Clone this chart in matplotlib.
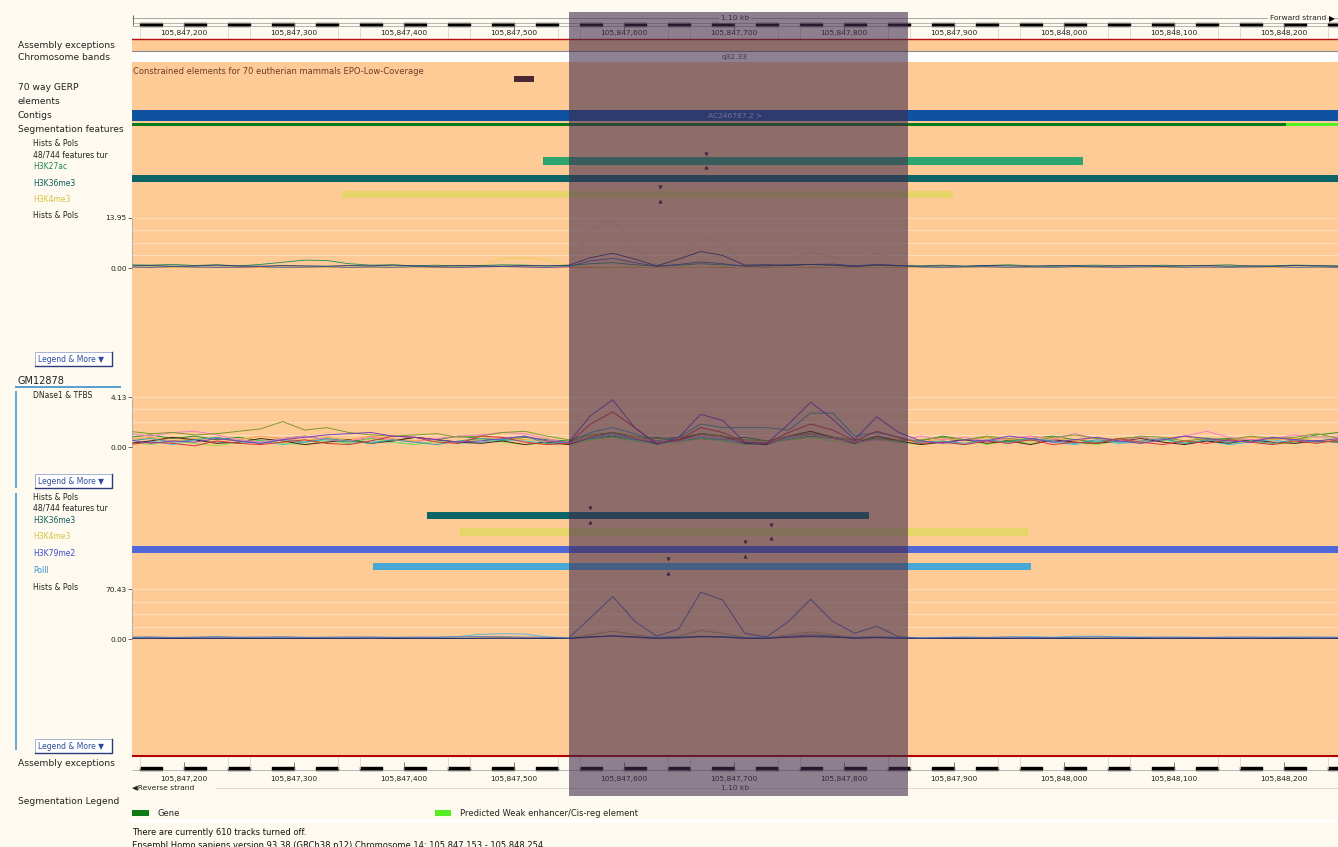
import matplotlib
matplotlib.use("Agg")
import matplotlib.pyplot as plt
import numpy as np
from matplotlib.patches import Rectangle

plt.rcParams['font.family'] = ['DejaVu Sans']

W, H = 1338, 847
CREAM = '#fffaef'
ORANGE = '#fecb97'

# region on chromosome 14 and the highlighted window
START, END = 105847153, 105848254
PX_PER_BP = 1.1
X0 = START
X1 = START + (W - 132) / PX_PER_BP
HL_START, HL_END = 105847550, 105847858
MAJOR = [105847200 + 100 * k for k in range(11)]

# features (start, end) and peak summits
GERP_EL = (105847500, 105847518)
GENE_SEG = (START, 105848202)
WEAK_ENH = (105848202, END)
TOP_K27AC = (105847527, 105848018)
TOP_K27AC_SUMMIT = 105847675
TOP_K4ME3 = (105847344, 105847899)
TOP_K4ME3_SUMMIT = 105847633
GM_K36ME3 = (105847421, 105847823)
GM_K36ME3_SUMMIT = 105847569
GM_K4ME3 = (105847451, 105847968)
GM_K4ME3_SUMMIT = 105847734
GM_K79ME2_SUMMIT = 105847710
GM_POLII = (105847372, 105847970)
GM_POLII_SUMMIT = 105847640

# signal tracks sampled every 20 bp
SIG_POS = np.arange(105847150, 105848251, 20)

# top Hists & Pols (max 13.95)
H1_OLIVE = [0.3, 0.4, 0.3, 0.2, 0.4, 0.3, 0.5, 0.4, 0.3, 0.2, 0.3, 0.4, 0.3, 0.2, 0.3, 0.4, 0.3, 0.5, 0.4, 0.3,
            0.5, 10.5, 13.6, 5.5, 0.8, 1.5, 8.5, 7.0, 1.0, 0.8, 2.5, 4.4, 3.0, 1.5, 4.1, 2.0, 0.3,
            0.3, 0.4, 0.2, 0.3, 0.4, 0.3, 0.2, 0.3, 0.4, 0.3, 0.2, 0.4, 0.3, 0.2, 0.3, 0.4, 0.3, 0.2, 0.3]
H1_NAVY = [0.6, 0.7, 0.5, 0.6, 0.8, 0.6, 0.5, 0.7, 0.6, 0.5, 0.7, 0.6, 0.8, 0.6, 0.5, 0.7, 0.6, 0.5, 0.7, 0.6,
           0.8, 2.9, 4.1, 2.5, 0.6, 2.5, 4.6, 3.5, 0.8, 0.9, 0.7, 1.0, 0.8, 0.4, 0.8, 0.6, 0.5,
           0.6, 0.5, 0.7, 0.6, 0.5, 0.7, 0.6, 0.5, 0.6, 0.7, 0.5, 0.6, 0.7, 0.5, 0.6, 0.5, 0.7, 0.6, 0.5]
H1_BLUE = [0.3, 0.2, 0.4, 0.3, 0.2, 0.3, 0.4, 0.2, 0.3, 0.4, 0.2, 0.3, 0.2, 0.4, 0.3, 0.2, 0.3, 0.4, 0.3, 0.2,
           0.4, 2.0, 2.7, 1.5, 0.5, 1.0, 1.7, 1.2, 0.5, 0.6, 0.8, 1.0, 1.1, 0.6, 1.0, 0.7, 0.3,
           0.2, 0.3, 0.4, 0.2, 0.3, 0.2, 0.4, 0.3, 0.2, 0.3, 0.4, 0.2, 0.3, 0.2, 0.3, 0.4, 0.2, 0.3, 0.2]
H1_GREEN = [0.9, 0.8, 1.0, 0.7, 0.9, 0.6, 1.0, 1.6, 2.2, 2.1, 1.2, 0.8, 0.9, 0.6, 0.8, 0.5, 0.7, 0.9, 0.8, 0.6,
            0.7, 1.2, 1.5, 0.9, 0.5, 0.8, 1.2, 0.9, 0.6, 0.7, 0.9, 1.0, 0.8, 0.6, 0.9, 0.7, 0.6,
            0.8, 0.5, 0.7, 0.9, 0.6, 0.4, 0.7, 0.8, 0.6, 0.5, 0.8, 0.6, 0.7, 0.9, 0.5, 0.6, 0.8, 0.7, 0.6]
H1_YELLOW = [0.2, 0.3, 0.2, 0.3, 0.2, 0.4, 0.3, 0.2, 0.3, 0.2, 0.3, 0.2, 0.3, 0.2, 0.3, 0.4, 0.8, 2.6, 2.8, 2.4,
             0.6, 0.3, 0.2, 0.3, 0.2, 0.3, 0.2, 0.3, 0.2, 0.3, 0.2, 0.3, 0.2, 0.3, 0.2, 0.3, 0.2,
             0.3, 0.2, 0.3, 0.2, 0.3, 0.2, 0.3, 0.2, 0.3, 0.2, 0.3, 0.2, 0.3, 0.2, 0.3, 0.2, 0.3, 0.2, 0.3]
H1_RED = [0.1, 0.1, 0.0, 0.1, 0.2, 0.1, 0.0, 0.3, 0.1, 0.0, 0.1, 0.1, 0.0, 0.1, 0.1, 0.2, 0.4, 0.4, 0.3, 0.1,
          0.0, 0.1, 0.1, 0.0, 0.1, 0.0, 0.1, 0.1, 0.0, 0.1, 0.0, 0.1, 0.1, 0.0, 0.1, 0.0, 0.1,
          0.1, 0.0, 0.1, 0.1, 0.0, 0.1, 0.0, 0.1, 0.1, 0.0, 0.1, 0.0, 0.1, 0.1, 0.0, 0.1, 0.0, 0.1, 0.1]

# DNase1 & TFBS (max 4.13)
DN_PURPLE = [0.6, 0.3, 0.5, 0.4, 0.7, 0.5, 0.3, 0.6, 0.8, 1.0, 1.1, 1.2, 0.9, 0.8, 0.6, 0.4, 0.5, 0.7, 0.9, 0.5,
             0.4, 2.6, 3.9, 1.6, 0.2, 0.8, 2.7, 2.2, 0.4, 0.3, 1.9, 3.7, 2.3, 0.6, 2.5, 1.2, 0.5,
             0.3, 0.6, 0.5, 0.9, 0.7, 0.4, 0.6, 0.8, 0.5, 0.3, 0.6, 0.9, 0.7, 0.5, 0.4, 0.8, 0.6, 0.5, 0.7]
DN_RED = [0.2, 0.4, 0.3, 0.1, 0.5, 0.3, 0.2, 0.4, 0.6, 0.3, 0.2, 0.5, 0.9, 0.8, 0.4, 0.3, 0.9, 0.8, 0.4, 0.2,
          0.3, 1.9, 2.9, 1.6, 0.3, 0.6, 1.6, 1.2, 0.4, 0.3, 1.2, 1.9, 1.4, 0.5, 1.3, 0.8, 0.3,
          0.4, 0.2, 0.5, 0.3, 0.6, 0.2, 0.4, 0.3, 0.7, 0.4, 0.2, 0.5, 0.3, 0.6, 0.4, 0.2, 0.5, 0.3, 0.6]
DN_OLIVE = [1.3, 1.1, 1.2, 1.0, 1.1, 1.3, 1.5, 2.1, 1.4, 1.6, 1.2, 1.0, 0.9, 1.0, 1.1, 0.8, 0.9, 1.2, 1.3, 0.9,
            0.6, 1.0, 1.2, 0.9, 0.7, 0.8, 1.1, 0.9, 0.6, 0.5, 0.9, 1.1, 0.8, 0.6, 0.7, 0.5, 0.6,
            0.8, 0.6, 0.9, 0.7, 0.5, 0.8, 1.0, 0.7, 0.6, 0.9, 0.8, 0.5, 0.7, 0.6, 0.9, 0.7, 0.8, 1.1, 0.7]
DN_PINK = [1.1, 0.9, 1.2, 1.3, 1.0, 0.6, 0.4, 0.7, 0.9, 0.6, 0.5, 0.8, 0.6, 0.4, 0.7, 0.9, 1.0, 1.2, 1.1, 0.7,
           0.3, 0.8, 1.1, 0.7, 0.4, 0.5, 0.9, 0.7, 0.4, 0.3, 0.8, 1.0, 0.7, 0.4, 0.6, 0.5, 0.9,
           0.6, 0.8, 0.5, 0.7, 0.9, 0.6, 1.1, 0.7, 0.5, 0.8, 0.6, 0.9, 1.3, 0.8, 0.6, 0.7, 1.0, 0.8, 0.9]
DN_TEAL = [0.5, 0.7, 0.4, 0.6, 0.8, 0.5, 0.3, 0.6, 0.4, 0.7, 0.5, 0.3, 0.6, 0.4, 0.2, 0.5, 0.7, 0.6, 0.9, 0.3,
           0.4, 1.2, 1.6, 1.1, 0.5, 0.8, 1.9, 1.6, 1.6, 1.6, 1.4, 2.8, 2.8, 0.9, 1.2, 0.8, 0.4,
           0.5, 0.3, 0.6, 0.4, 0.7, 0.5, 0.3, 0.6, 0.4, 0.5, 0.7, 0.3, 0.6, 0.4, 0.5, 0.3, 0.6, 0.4, 0.5]
DN_DARK = [0.3, 0.5, 0.8, 0.6, 0.3, 0.4, 0.7, 0.5, 0.2, 0.4, 0.6, 0.3, 0.5, 0.8, 0.6, 0.4, 0.3, 0.5, 0.2, 0.4,
           0.2, 0.8, 1.2, 0.7, 0.3, 0.6, 1.1, 0.9, 0.3, 0.2, 0.9, 1.3, 0.8, 0.3, 0.9, 0.5, 0.2,
           0.4, 0.6, 0.3, 0.5, 0.2, 0.6, 0.4, 0.3, 0.5, 0.7, 0.4, 0.2, 0.5, 0.3, 0.6, 0.4, 0.3, 0.5, 0.4]
DN_ORANGE = [0.6, 0.8, 0.5, 0.7, 0.4, 0.6, 0.9, 0.7, 0.5, 0.8, 0.6, 0.9, 0.7, 0.5, 0.6, 0.4, 0.7, 0.8, 0.6, 0.5,
             0.4, 0.9, 1.1, 0.8, 0.4, 0.6, 1.0, 0.8, 0.5, 0.4, 0.8, 1.2, 0.9, 0.5, 0.8, 0.6, 0.4,
             0.7, 0.5, 0.8, 0.6, 0.9, 0.7, 0.5, 0.8, 0.6, 0.4, 0.7, 0.9, 0.6, 0.5, 0.8, 0.6, 0.7, 0.5, 0.6]
DN_LIME = [0.4, 0.2, 0.5, 0.3, 0.1, 0.4, 0.6, 0.3, 0.2, 0.5, 0.3, 0.7, 0.4, 0.2, 0.5, 0.3, 0.6, 0.4, 0.2, 0.3,
           0.2, 0.6, 0.8, 0.5, 0.2, 0.4, 0.7, 0.5, 0.2, 0.3, 0.6, 0.8, 0.5, 0.3, 0.6, 0.4, 0.2,
           0.4, 0.6, 0.2, 0.5, 0.3, 0.7, 0.4, 0.2, 0.5, 0.3, 0.6, 0.4, 0.8, 0.3, 0.5, 0.2, 0.4, 0.9, 0.5]
DN_GREEN = [0.8, 1.0, 0.7, 0.9, 0.6, 0.8, 0.5, 0.7, 0.9, 0.6, 0.4, 0.7, 0.5, 0.8, 0.6, 0.9, 0.7, 0.5, 0.8, 0.6,
            0.5, 0.7, 0.9, 0.6, 0.8, 0.5, 0.7, 0.6, 0.8, 0.5, 0.6, 0.9, 0.7, 0.5, 0.7, 0.6, 0.5,
            0.9, 0.6, 0.8, 0.5, 0.7, 0.9, 0.6, 0.4, 0.7, 0.8, 0.5, 0.9, 0.6, 0.7, 0.5, 0.8, 0.6, 1.0, 1.2]
DN_CYAN = [0.3, 0.5, 0.2, 0.6, 0.4, 0.3, 0.5, 0.2, 0.4, 0.6, 0.3, 0.5, 0.4, 0.2, 0.5, 0.3, 0.4, 0.6, 0.5, 0.3,
           0.3, 0.7, 1.0, 0.6, 0.3, 0.5, 0.8, 0.6, 0.3, 0.3, 0.7, 1.1, 0.8, 0.4, 0.7, 0.4, 0.3,
           0.4, 0.2, 0.5, 0.3, 0.6, 0.4, 0.2, 0.5, 0.3, 0.4, 0.6, 0.3, 0.5, 0.2, 0.4, 0.6, 0.3, 0.5, 0.4]

# GM12878 Hists & Pols (max 70.43)
H2_SLATE = [2.5, 2.8, 2.2, 2.6, 3.0, 2.4, 2.7, 2.9, 2.3, 2.5, 2.8, 2.6, 2.2, 2.7, 2.4, 2.9, 3.2, 3.0, 2.6, 2.4,
            1.5, 30, 60, 25, 4, 14, 66, 55, 8, 3, 25, 56, 25, 8, 18, 3, 1.5,
            2.0, 2.4, 2.2, 2.6, 2.3, 2.0, 2.5, 2.8, 2.4, 2.1, 2.6, 2.3, 2.0, 2.5, 2.7, 2.2, 2.4, 2.6, 2.3]
H2_OLIVE = [1.2, 1.5, 1.0, 1.4, 1.6, 1.2, 1.0, 1.3, 1.5, 1.1, 1.4, 1.2, 1.6, 1.3, 1.0, 1.2, 1.5, 1.8, 1.4, 1.1,
            1.5, 6, 11, 6, 2, 4, 12, 8, 2, 1.5, 6, 10, 6, 2, 4, 2, 1.2,
            1.3, 1.1, 1.4, 1.2, 1.0, 1.3, 1.5, 1.2, 1.1, 1.4, 1.2, 1.0, 1.3, 1.5, 1.2, 1.1, 1.4, 1.2, 1.3]
H2_LIGHTBLUE = [2.0, 2.5, 1.8, 2.2, 2.8, 2.4, 2.0, 2.6, 2.3, 1.9, 2.2, 2.7, 2.4, 2.0, 2.5, 3.5, 6.5, 7.5, 7.0, 3.0,
                2.0, 3.0, 4.0, 3.0, 2.5, 3.0, 4.0, 3.5, 2.5, 2.0, 3.0, 3.5, 3.0, 2.5, 3.0, 2.5, 2.0,
                2.4, 2.8, 2.2, 3.0, 3.4, 2.6, 3.8, 4.0, 3.2, 2.8, 2.5, 2.9, 2.4, 2.7, 2.2, 2.6, 2.9, 2.4, 2.6]
H2_NAVY = [0.8, 1.0, 0.6, 0.9, 1.1, 0.7, 0.8, 1.0, 0.6, 0.9, 0.8, 1.1, 0.7, 0.9, 0.8, 0.6, 1.0, 1.2, 0.9, 0.7,
           0.8, 3.0, 4.5, 3.0, 1.2, 2.0, 3.5, 3.0, 1.2, 1.0, 2.5, 3.5, 2.5, 1.2, 2.0, 1.2, 0.8,
           0.9, 0.7, 1.0, 0.8, 1.1, 0.9, 0.6, 0.8, 1.0, 0.7, 0.9, 0.8, 1.1, 0.7, 0.9, 0.8, 0.6, 1.0, 0.8]
H2_PURPLE = [0.5, 0.6, 0.4, 0.5, 0.7, 0.5, 0.4, 0.6, 0.5, 0.4, 0.6, 0.5, 0.7, 0.5, 0.4, 0.6, 0.5, 0.4, 0.6, 0.5,
             0.6, 2.5, 4.0, 2.0, 0.8, 1.5, 3.0, 2.5, 0.8, 0.9, 3.5, 6.0, 4.0, 1.0, 2.0, 1.0, 0.5,
             0.5, 0.4, 0.6, 0.5, 0.7, 0.5, 0.4, 0.6, 0.5, 0.4, 0.6, 0.5, 0.7, 0.5, 0.4, 0.6, 0.5, 0.4, 0.6]


def fx(px):
    return px / W


def fy(py):
    return 1 - py / H


fig = plt.figure(figsize=(W / 100, H / 100), dpi=100)
fig.patch.set_facecolor(CREAM)

# main track area: x in bp, y in screen rows
ax = fig.add_axes([fx(132), 0, 1 - fx(132), 1])
ax.set_xlim(X0, X1)
ax.set_ylim(H, 0)
ax.axis('off')

# top ruler
ax.hlines(18.5, X0, X1, color='#9a9a9a', lw=0.6)
ax.vlines(X0 + 0.5, 15, 25, color='#555555', lw=0.6)
ax.hlines([23, 26], X0, X1, color='#9a9a9a', lw=0.5)
ax.broken_barh([(p, 20) for p in np.arange(105847160, X1, 40)], (23, 3), color='black')
seps = [m - 40 for m in MAJOR] + [m + 40 for m in MAJOR]
ax.vlines(seps, 26, 38, color='#d8d2c8', lw=0.6)
ax.vlines(MAJOR, 23, 30, color='#666666', lw=0.6)
for m in MAJOR:
    ax.text(m, 33, f'{m:,}', ha='center', va='center', fontsize=5.4, color='#222222')
mid = (X0 + X1) / 2
ax.text(mid, 18.5, '1.10 kb', ha='center', va='center', fontsize=5.4, color='#333333',
        bbox=dict(facecolor=CREAM, edgecolor='none', pad=1.2))

# assembly exceptions / chromosome bands
ax.axhspan(40, 51, color=ORANGE, lw=0)
ax.axhline(39.5, color='#b01010', lw=1.0)
ax.axhspan(51, 62, color='white', lw=0)
ax.axhline(51.5, color='#8a8a8a', lw=0.8)
ax.text(mid, 57, 'q32.33', ha='center', va='center', fontsize=5.4, color='#444444')

# main orange body
ax.axhspan(62, 755, color=ORANGE, lw=0)
ax.axhline(756, color='#b00000', lw=1.5)

ax.text(X0 + 1, 72, 'Constrained elements for 70 eutherian mammals EPO-Low-Coverage',
        ha='left', va='center', fontsize=6.0, color='#6b3e26')
ax.barh(79, GERP_EL[1] - GERP_EL[0], left=GERP_EL[0], height=6, color='#4a2832')

# contigs
ax.barh(115.5, X1 - X0, left=X0, height=11, color='#0f52a0')
ax.text(mid, 115.5, 'AC246787.2 >', ha='center', va='center', fontsize=5.4, color='#c8d2ff')

# segmentation features
ax.barh(124.5, GENE_SEG[1] - GENE_SEG[0], left=GENE_SEG[0], height=3.5, color='#0c7a16')
ax.barh(124.5, X1 - WEAK_ENH[0], left=WEAK_ENH[0], height=3.5, color='#55ee22')


def peak_bar(y, span, color, summit=None):
    ax.barh(y, span[1] - span[0], left=span[0], height=7.5, color=color)
    if summit is not None:
        ax.scatter([summit], [y - 7], marker='v', s=9, color='#2a1a2a', lw=0, zorder=3)
        ax.scatter([summit], [y + 6.5], marker='^', s=9, color='#2a1a2a', lw=0, zorder=3)


peak_bar(161, TOP_K27AC, '#2ca66e', TOP_K27AC_SUMMIT)
peak_bar(178.5, (X0, X1), '#0c6466')
peak_bar(194.5, TOP_K4ME3, '#e6d66a', TOP_K4ME3_SUMMIT)

peak_bar(515.5, GM_K36ME3, '#0c6466', GM_K36ME3_SUMMIT)
peak_bar(532, GM_K4ME3, '#e6d66a', GM_K4ME3_SUMMIT)
peak_bar(549.5, (X0, X1), '#5068d8', GM_K79ME2_SUMMIT)
peak_bar(566.5, GM_POLII, '#48a8d8', GM_POLII_SUMMIT)

# bottom ruler
ax.vlines(seps, 757, 769, color='#d8d2c8', lw=0.6)
ax.vlines(MAJOR, 762, 770, color='#666666', lw=0.6)
ax.broken_barh([(p, 20) for p in np.arange(105847160, X1, 40)], (767.5, 3), color='black')
ax.hlines(770.5, X0, X1, color='#9a9a9a', lw=0.5)
for m in MAJOR:
    ax.text(m, 779, f'{m:,}', ha='center', va='center', fontsize=5.4, color='#222222')
ax.hlines(788, X0 + 75, X1, color='#d8d2c8', lw=0.6)
ax.text(mid, 788, '1.10 kb', ha='center', va='center', fontsize=5.4, color='#333333',
        bbox=dict(facecolor=CREAM, edgecolor='none', pad=1.0))
ax.text(X0, 787.5, '◀Reverse strand', ha='left', va='center', fontsize=5.4, color='#222222',
        bbox=dict(facecolor=CREAM, edgecolor='none', pad=0.5))


def signal_axes(top, bottom, ymax):
    sa = fig.add_axes([fx(132), fy(bottom), 1 - fx(132), (bottom - top) / H])
    sa.set_xlim(X0, X1)
    sa.set_ylim(0, ymax)
    sa.patch.set_alpha(0)
    for s in ['top', 'right', 'bottom']:
        sa.spines[s].set_visible(False)
    sa.spines['left'].set_linestyle(':')
    sa.spines['left'].set_color('#9a9a9a')
    sa.spines['left'].set_linewidth(0.6)
    sa.set_xticks([])
    sa.set_yticks([0, ymax])
    sa.set_yticklabels(['0.00', f'{ymax:.2f}'])
    sa.tick_params(axis='y', length=3, width=0.6, color='#555555', labelsize=5.4, pad=0.8,
                   labelcolor='#222222')
    for f in (0.25, 0.5, 0.75, 1.0):
        sa.axhline(ymax * f, color='#ffdfbf', lw=0.7)
    return sa


s1 = signal_axes(218, 268, 13.95)
for vals, col, a in [(H1_RED, '#e05030', 1), (H1_YELLOW, '#e8d44a', 1), (H1_GREEN, '#1f8a5a', 1),
                     (H1_OLIVE, '#c8b870', 0.45), (H1_BLUE, '#3a5ab0', 1), (H1_NAVY, '#283868', 1)]:
    s1.plot(SIG_POS, vals, color=col, lw=0.6, alpha=a)

s2 = signal_axes(397, 447, 4.13)
for vals, col in [(DN_GREEN, '#2d8b2d'), (DN_CYAN, '#3cc6dc'), (DN_LIME, '#90e048'),
                  (DN_ORANGE, '#f5a142'), (DN_DARK, '#4a2418'), (DN_PINK, '#f47fc0'),
                  (DN_OLIVE, '#7e9a2e'), (DN_TEAL, '#3a9da0'), (DN_RED, '#d8343a'),
                  (DN_PURPLE, '#7b3fbf')]:
    s2.plot(SIG_POS, vals, color=col, lw=0.7)

s3 = signal_axes(589, 639, 70.43)
for vals, col in [(H2_OLIVE, '#b0a050'), (H2_LIGHTBLUE, '#60b8e0'), (H2_PURPLE, '#7050b0'),
                  (H2_NAVY, '#283060'), (H2_SLATE, '#5868a8')]:
    s3.plot(SIG_POS, vals, color=col, lw=0.7)

# highlighted region drawn over everything
fig.add_artist(Rectangle((HL_START, 12), HL_END - HL_START, 784, transform=ax.transData,
                         facecolor='#432d4d', alpha=0.6, lw=0, zorder=10))

# right end of top ruler
fig.text(fx(1326), fy(18.5), 'Forward strand', ha='right', va='center', fontsize=5.4,
         color='#222222', bbox=dict(facecolor=CREAM, edgecolor='none', pad=1.0))
fig.text(fx(1329), fy(18.5), '▶', ha='left', va='center', fontsize=5.5, color='black')

# left labels
labels = [
    (18, 46, 'Assembly exceptions', '#222222', 6.6),
    (18, 57, 'Chromosome bands', '#222222', 6.6),
    (18, 88, '70 way GERP', '#222222', 6.6),
    (18, 102, 'elements', '#222222', 6.6),
    (18, 116, 'Contigs', '#222222', 6.6),
    (18, 130, 'Segmentation features', '#222222', 6.6),
    (33, 144, 'Hists & Pols', '#222222', 5.5),
    (33, 155, '48/744 features tur', '#222222', 5.5),
    (33, 166, 'H3K27ac', '#1f8a4c', 5.5),
    (33, 183, 'H3K36me3', '#0c5a5a', 5.5),
    (33, 199, 'H3K4me3', '#d8c040', 5.5),
    (33, 216, 'Hists & Pols', '#222222', 5.5),
    (18, 381, 'GM12878', '#222222', 7.0),
    (33, 396, 'DNase1 & TFBS', '#222222', 5.5),
    (33, 497, 'Hists & Pols', '#222222', 5.5),
    (33, 508, '48/744 features tur', '#222222', 5.5),
    (33, 520, 'H3K36me3', '#0c5a5a', 5.5),
    (33, 536, 'H3K4me3', '#d8c040', 5.5),
    (33, 553, 'H3K79me2', '#3a4ad0', 5.5),
    (33, 570, 'PolII', '#3a90d0', 5.5),
    (33, 587, 'Hists & Pols', '#222222', 5.5),
    (18, 763, 'Assembly exceptions', '#222222', 6.6),
    (18, 801, 'Segmentation Legend', '#222222', 6.6),
]
for x, y, s, c, fs in labels:
    fig.text(fx(x), fy(y), s, ha='left', va='center', fontsize=fs, color=c)

# GM12878 group markers
fig.add_artist(Rectangle((fx(15), fy(388)), fx(106), 2 / H, transform=fig.transFigure,
                         color='#5aa0d0', lw=0))
for y0, y1 in [(391, 488), (493, 750)]:
    fig.add_artist(Rectangle((fx(15), fy(y1)), fx(2), (y1 - y0) / H, transform=fig.transFigure,
                             color='#6aa8d8', lw=0))

# legend buttons
for yc in (359, 481, 746):
    fig.add_artist(Rectangle((fx(35), fy(yc + 7)), fx(77), 14 / H, transform=fig.transFigure,
                             facecolor='white', edgecolor='#9aa8c8', lw=0.6))
    fig.add_artist(plt.Line2D([fx(112), fx(112), fx(35)], [fy(yc - 7), fy(yc + 7), fy(yc + 7)],
                              transform=fig.transFigure, color='#2a3a7a', lw=1.0))
    fig.text(fx(38), fy(yc), 'Legend & More ▼', ha='left', va='center', fontsize=5.5, color='#2b4b9b')

# segmentation legend
fig.add_artist(Rectangle((fx(132), fy(816)), fx(17), 6 / H, transform=fig.transFigure,
                         color='#0c7a16', lw=0))
fig.text(fx(157), fy(813), 'Gene', ha='left', va='center', fontsize=6.0, color='#222222')
fig.add_artist(Rectangle((fx(435), fy(816)), fx(16), 6 / H, transform=fig.transFigure,
                         color='#55ee22', lw=0))
fig.text(fx(460), fy(813), 'Predicted Weak enhancer/Cis-reg element', ha='left', va='center',
         fontsize=6.0, color='#222222')
fig.add_artist(Rectangle((fx(132), fy(823)), 1 - fx(132), 4 / H, transform=fig.transFigure,
                         color='white', lw=0))

fig.text(fx(132), fy(832), 'There are currently 610 tracks turned off.', ha='left', va='center',
         fontsize=6.0, color='#111111')
fig.text(fx(132), fy(845), 'Ensembl Homo sapiens version 93.38 (GRCh38.p12) Chromosome 14: '
         '105,847,153 - 105,848,254', ha='left', va='center', fontsize=6.0, color='#111111')

fig.savefig('out.png', dpi=100, facecolor=CREAM)
